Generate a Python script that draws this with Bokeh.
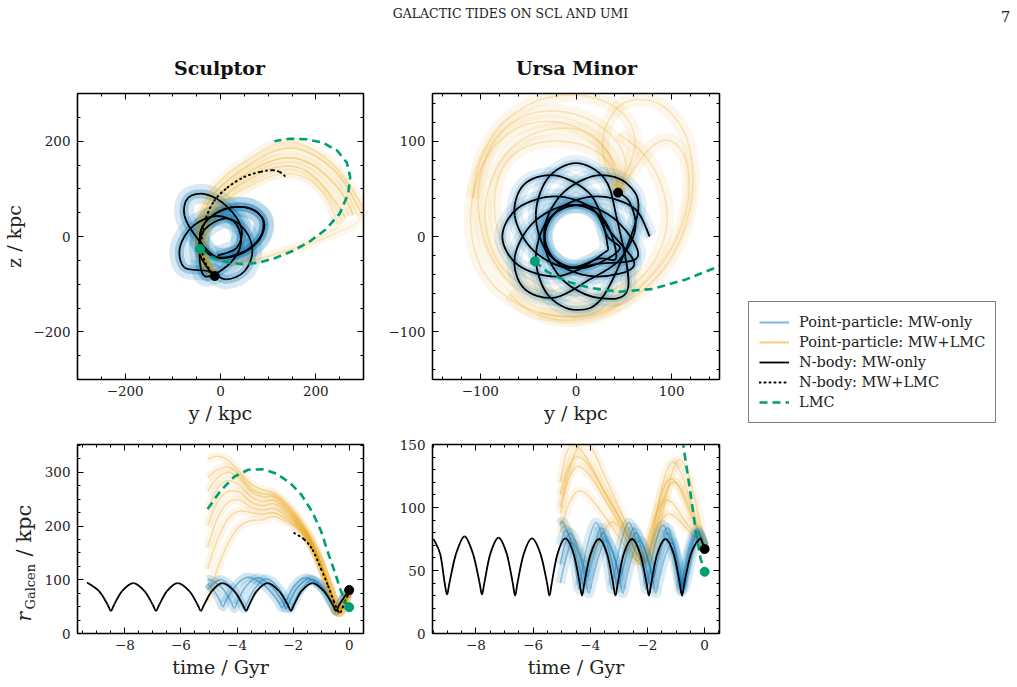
import math
from bokeh.plotting import figure
from bokeh.models import (ColumnDataSource, FixedTicker, LinearAxis, Range1d,
                          Label, Legend, LegendItem)
from bokeh.layouts import column, row
from bokeh.embed import file_html
from bokeh.resources import INLINE

# ------------------------------------------------------------------ data
# --- Sculptor, y-z projection (kpc); N-body MW-only orbit, loop by loop
SCL_LOOP_A = [(-6, -40), (33.9, -24), (44, 16.5), (14.8, 61.8), (-30.5, 88.5), (-68, 81), (-75.5, 43.5), (-50, -2)]
SCL_LOOP_B = [(-10, -42), (41.3, -35), (81.7, -3.6), (88.9, 35.1), (58.7, 60.2), (8.7, 57.1), (-33, 28), (-42, -12)]
SCL_LOOP_B2 = [(-12, -44), (40, -37.5), (82, -6), (91, 33), (61, 59), (10, 58.5), (-32, 30), (-44, -8)]
SCL_LOOP_C = [(-35.2, -81.7), (13.2, -62.4), (42, -20), (33, 26), (-8.8, 43), (-57.2, 22.4), (-85, -21.7), (-75.9, -64.8)]
SCL_LOOP_D = [(-26.9, -72.4), (12, -90), (50.9, -72.4), (67, -30), (50.9, 14), (12, 38), (-34, 14), (-45, -30)]
SCL_LOOP_END = [(-30, -62), (-12, -83)]
# Sculptor point-particle MW+LMC bundle (spines)
SCL_PP_LMC_1 = [(-12, -83), (-32, -55), (-45, -20), (-45, 15), (-35, 50), (-15, 88), (15, 118), (60, 150), (110, 178), (155, 185), (200, 168), (240, 138), (268, 100), (285, 68), (298, 45)]
SCL_PP_LMC_2 = [(-12, -83), (-30, -58), (-42, -25), (-40, 10), (-30, 45), (-10, 80), (20, 108), (60, 135), (105, 158), (150, 165), (190, 152), (225, 125), (252, 95), (270, 65), (278, 45)]
SCL_PP_LMC_3 = [(-12, -83), (-28, -60), (-38, -28), (-36, 5), (-25, 38), (-5, 70), (25, 98), (65, 122), (105, 142), (145, 148), (180, 138), (210, 112), (232, 85), (250, 60), (262, 40)]
SCL_PP_LMC_4 = [(298, 45), (280, 25), (245, 8), (195, -12), (135, -32), (75, -48), (25, -55)]
SCL_PP_LMC_5 = [(-12, -83), (-27, -62), (-35, -30), (-32, 0), (-20, 30), (0, 60), (30, 88), (70, 110), (110, 128), (150, 132), (185, 120), (212, 95), (228, 70), (240, 45), (245, 25)]
SCL_PP_LMC_6 = [(-12, -83), (-33, -55), (-47, -18), (-48, 18), (-40, 55), (-20, 95), (10, 128), (55, 160), (105, 190), (150, 198), (195, 182), (235, 152), (265, 115), (285, 85), (300, 60)]
SCL_PP_LMC_7 = [(262, 40), (245, 20), (215, 2), (170, -18), (120, -35), (70, -50), (20, -58)]
# Sculptor N-body MW+LMC
SCL_NB_LMC = [(-12, -83), (-30, -58), (-40, -25), (-38, 5), (-30, 40), (-13, 75), (15, 103), (50, 125), (85, 136), (110, 139), (125, 135), (135, 127)]
SCL_NOW = (-12, -83)

# --- Ursa Minor, y-z projection (kpc); N-body MW-only rosette, loop by loop
UMI_LOOP_1 = [(77, 0), (60.9, 29.7), (22, 42), (-16.9, 29.7), (-33, 0), (-16.9, -29.7), (22, -42), (60.9, -29.7)]
UMI_LOOP_2 = [(32.9, 9.1), (14.1, 45.2), (-22.1, 64.1), (-54.4, 54.4), (-64.1, 22.1), (-45.2, -14.1), (-9.1, -32.9), (23.3, -23.3)]
UMI_LOOP_3 = [(42, -22), (29.7, 16.9), (0, 33), (-29.7, 16.9), (-42, -22), (-29.7, -60.9), (0, -77), (29.7, -60.9)]
UMI_LOOP_4 = [(64.1, 22.1), (54.4, 54.4), (22.1, 64.1), (-14.1, 45.2), (-32.9, 9.1), (-23.3, -23.3), (9.1, -32.9), (45.2, -14.1)]
UMI_LOOP_5 = [(33, 0), (16.9, 29.7), (-22, 42), (-60.9, 29.7), (-77, 0), (-60.9, -29.7), (-22, -42), (16.9, -29.7)]
UMI_LOOP_6 = [(64.1, -22.1), (45.2, 14.1), (9.1, 32.9), (-23.3, 23.3), (-32.9, -9.1), (-14.1, -45.2), (22.1, -64.1), (54.4, -54.4)]
UMI_LOOP_7 = [(42, 22), (29.7, 60.9), (0, 77), (-29.7, 60.9), (-42, 22), (-29.7, -16.9), (0, -33), (29.7, -16.9)]
UMI_LOOP_8 = [(32.9, -9.1), (23.3, 23.3), (-9.1, 32.9), (-45.2, 14.1), (-64.1, -22.1), (-54.4, -54.4), (-22.1, -64.1), (14.1, -45.2)]
UMI_LOOP_END = [(45, -25), (62, 8), (56, 36), (44, 46)]
# Ursa Minor point-particle MW+LMC bundle (spines)
UMI_PP_LMC_1 = [(44, 46), (42, 72), (25, 98), (-10, 118), (-50, 118), (-85, 95), (-105, 55), (-110, 10), (-98, -35), (-70, -65), (-30, -82), (10, -82), (45, -70)]
UMI_PP_LMC_2 = [(44, 46), (30, 78), (30, 112), (50, 140), (85, 140), (112, 112), (122, 70), (118, 25), (102, -18), (75, -52), (38, -75), (0, -85), (-38, -80)]
UMI_PP_LMC_3 = [(44, 46), (52, 78), (35, 108), (0, 128), (-42, 130), (-78, 110), (-98, 72), (-102, 28), (-90, -18), (-62, -55), (-22, -72), (20, -70), (58, -52), (85, -20), (95, 15), (90, 52), (72, 85), (45, 108)]
UMI_PP_LMC_4 = [(44, 46), (35, 85), (10, 110), (-30, 112), (-65, 95), (-88, 60), (-95, 20), (-85, -20), (-60, -48), (-25, -62)]
UMI_PP_LMC_5 = [(44, 46), (55, 72), (62, 100), (50, 128), (20, 145), (-15, 148), (-50, 138), (-80, 115), (-100, 80), (-108, 40)]
UMI_PP_LMC_6 = [(44, 46), (40, 68), (20, 90), (-15, 100), (-50, 95), (-75, 75), (-85, 40), (-80, 0), (-60, -35), (-30, -55), (5, -62), (40, -55), (65, -35)]
UMI_PP_LMC_7 = [(44, 46), (60, 70), (80, 95), (100, 100), (115, 80), (118, 45), (110, 10), (92, -25), (65, -55), (30, -80), (-10, -88), (-45, -80), (-70, -60)]
UMI_NOW = (44, 46)

# --- LMC orbit, y-z projection (kpc)
LMC_Y = [-43, -30, -10, 15, 45, 80, 115, 150, 185, 220, 250, 268, 272, 265, 245, 215, 180, 145, 113]
LMC_Z = [-26, -37, -47, -54, -58, -55, -45, -31, -12, 14, 48, 90, 125, 155, 180, 197, 204, 205, 200]
LMC_NOW = (-43, -26)

# --- Galactocentric distance vs time (Gyr, kpc)
SCL_NB_T = [-9.35, -8.92, -8.62, -8.50, -8.38, -8.10, -7.70, -7.30, -7.01, -6.89, -6.77, -6.50, -6.12, -5.70, -5.41, -5.29, -5.17, -4.90, -4.52, -4.10, -3.80, -3.68, -3.56, -3.30, -2.91, -2.50, -2.20, -2.08, -1.96, -1.70, -1.31, -0.90, -0.59, -0.47, -0.35, -0.12, 0.0]
SCL_NB_R = [95, 79, 54, 42, 54, 79, 94, 79, 54, 42, 54, 79, 94, 79, 54, 42, 54, 79, 94, 79, 54, 42, 54, 79, 94, 79, 54, 42, 54, 79, 94, 79, 54, 42, 54, 72, 81]
SCL_NBL_T = [-1.96, -1.6, -1.3, -1.0, -0.75, -0.55, -0.4, -0.3, -0.15, 0.0]
SCL_NBL_R = [187, 175, 155, 120, 88, 60, 42, 40, 60, 76]
SCL_PP_T1 = [-5.05, -4.8, -4.55, -4.15, -3.87, -3.75, -3.63, -3.35, -2.95, -2.52, -2.22, -2.10, -1.98, -1.70, -1.30, -0.88, -0.59, -0.47, -0.33, -0.12, 0.0]
SCL_PP_R1 = [82, 95, 100, 84, 58, 46, 58, 85, 102, 85, 57, 45, 57, 83, 100, 83, 55, 42, 55, 72, 80]
SCL_PP_T2 = [-5.05, -4.95, -4.52, -4.22, -4.10, -3.98, -3.68, -3.25, -2.75, -2.37, -2.25, -2.13, -1.84, -1.42, -0.95, -0.60, -0.47, -0.33, -0.12, 0.0]
SCL_PP_R2 = [99, 100, 84, 60, 47, 60, 88, 104, 87, 59, 46, 59, 86, 102, 85, 55, 42, 55, 72, 80]
SCL_PP_T3 = [-5.05, -4.80, -4.62, -4.50, -4.38, -4.05, -3.60, -3.00, -2.55, -2.40, -2.25, -1.97, -1.55, -1.00, -0.62, -0.47, -0.33, -0.12, 0.0]
SCL_PP_R3 = [92, 78, 62, 50, 63, 89, 105, 88, 61, 48, 61, 88, 104, 85, 55, 42, 55, 72, 80]
SCL_PPL_T = [-5.05, -4.7, -4.3, -3.9, -3.5, -3.1, -2.7, -2.3, -1.9, -1.5, -1.15, -0.85, -0.6, -0.42, -0.3, -0.15, 0.0]
SCL_PPL_R1 = [325, 330, 322, 300, 278, 268, 262, 245, 222, 190, 150, 108, 70, 42, 42, 58, 80]
SCL_PPL_R2 = [265, 290, 300, 288, 265, 255, 255, 238, 215, 185, 148, 106, 70, 42, 42, 58, 80]
SCL_PPL_R3 = [200, 245, 265, 262, 245, 238, 242, 228, 208, 180, 145, 105, 70, 42, 42, 58, 80]
SCL_PPL_R4 = [120, 175, 215, 228, 225, 222, 225, 215, 200, 176, 143, 104, 70, 42, 42, 58, 80]
SCL_PPL_R5 = [60, 120, 170, 200, 210, 212, 218, 210, 198, 175, 142, 104, 70, 42, 42, 58, 80]
SCL_PPL_R6 = [290, 305, 310, 295, 270, 260, 258, 242, 218, 187, 149, 107, 70, 42, 42, 58, 80]
SCL_PPL_R7 = [230, 270, 285, 275, 255, 246, 248, 233, 212, 183, 147, 106, 70, 42, 42, 58, 80]
SCL_PPL_R8 = [160, 215, 245, 248, 235, 230, 233, 222, 205, 178, 144, 105, 70, 42, 42, 58, 80]

UMI_NB_T = [-9.48, -9.25, -9.10, -9.01, -8.92, -8.70, -8.40, -8.10, -7.88, -7.79, -7.70, -7.50, -7.21, -6.92, -6.72, -6.63, -6.54, -6.33, -6.04, -5.74, -5.52, -5.43, -5.34, -5.15, -4.87, -4.58, -4.38, -4.29, -4.20, -3.99, -3.70, -3.41, -3.21, -3.12, -3.03, -2.83, -2.54, -2.25, -2.04, -1.95, -1.86, -1.66, -1.37, -1.08, -0.88, -0.79, -0.70, -0.48, -0.18, -0.08, 0.0]
UMI_NB_R = [75, 63, 41, 31, 41, 63, 77, 63, 41, 31, 41, 63, 76, 63, 41, 30, 41, 63, 75.5, 63, 41, 30, 41, 63, 75.5, 63, 41, 30, 41, 63, 75, 63, 41, 30, 41, 63, 75, 63, 41, 30, 41, 63, 75, 63, 41, 30, 41, 63, 75, 72, 67]
UMI_PP_T1 = [-5.05, -4.95, -4.65, -4.48, -4.40, -4.32, -4.10, -3.80, -3.50, -3.33, -3.25, -3.17, -2.95, -2.65, -2.35, -2.14, -2.05, -1.96, -1.75, -1.45, -1.15, -0.94, -0.85, -0.76, -0.55, -0.28, -0.12, 0.0]
UMI_PP_R1 = [86, 88, 70, 46, 35, 46, 70, 88, 70, 46, 35, 46, 70, 88, 70, 46, 35, 46, 70, 86, 68, 45, 35, 45, 68, 82, 76, 67]
UMI_PP_T2 = [-5.05, -4.90, -4.70, -4.42, -4.20, -4.10, -4.00, -3.80, -3.55, -3.27, -3.05, -2.95, -2.85, -2.65, -2.40, -2.12, -1.90, -1.80, -1.70, -1.50, -1.30, -1.05, -0.88, -0.80, -0.72, -0.52, -0.25, -0.10, 0.0]
UMI_PP_R2 = [55, 70, 80, 68, 52, 45, 52, 68, 80, 68, 52, 45, 52, 68, 80, 68, 52, 44, 52, 68, 80, 66, 45, 36, 45, 66, 80, 75, 67]
UMI_PP_T3 = [-5.05, -4.90, -4.65, -4.35, -4.15, -4.05, -3.95, -3.72, -3.45, -3.15, -2.95, -2.86, -2.77, -2.55, -2.28, -2.00, -1.80, -1.71, -1.62, -1.40, -1.12, -0.90, -0.78, -0.70, -0.60, -0.40, -0.20, 0.0]
UMI_PP_R3 = [40, 55, 72, 60, 40, 32, 40, 60, 74, 60, 40, 32, 40, 60, 74, 60, 40, 32, 40, 60, 72, 55, 38, 36, 45, 66, 78, 67]
UMI_PP_T4 = [-5.05, -4.85, -4.55, -4.30, -4.22, -4.12, -3.90, -3.62, -3.35, -3.12, -3.04, -2.94, -2.72, -2.48, -2.20, -1.97, -1.88, -1.78, -1.57, -1.30, -1.02, -0.86, -0.80, -0.72, -0.50, -0.25, 0.0]
UMI_PP_R4 = [70, 82, 66, 44, 36, 44, 66, 84, 66, 44, 36, 44, 66, 84, 66, 44, 36, 44, 66, 84, 64, 42, 33, 42, 64, 80, 67]
UMI_PPL_T1 = [-5.05, -4.85, -4.6, -4.3, -3.9, -3.5, -3.1, -2.7, -2.4, -2.15, -1.95, -1.75, -1.55, -1.35, -1.15, -0.95, -0.7, -0.45, -0.2, 0.0]
UMI_PPL_R1 = [120, 142, 150, 145, 130, 113, 97, 80, 66, 57, 62, 85, 110, 128, 136, 133, 120, 100, 82, 70]
UMI_PPL_T2 = [-5.05, -4.8, -4.5, -4.2, -3.8, -3.4, -3.0, -2.6, -2.35, -2.15, -1.95, -1.7, -1.45, -1.2, -0.95, -0.7, -0.45, -0.2, 0.0]
UMI_PPL_R2 = [95, 120, 132, 130, 118, 103, 88, 73, 62, 58, 70, 95, 115, 123, 118, 106, 92, 80, 70]
UMI_PPL_T3 = [-5.05, -4.8, -4.5, -4.2, -3.9, -3.5, -3.1, -2.75, -2.5, -2.3, -2.1, -1.85, -1.6, -1.35, -1.1, -0.85, -0.55, -0.25, 0.0]
UMI_PPL_R3 = [80, 100, 112, 112, 105, 93, 80, 68, 60, 58, 66, 85, 100, 106, 103, 95, 85, 77, 70]
UMI_PPL_T4 = [-5.05, -4.8, -4.55, -4.35, -4.1, -3.9, -3.6, -3.3, -3.0, -2.7, -2.45, -2.25, -2.0, -1.75, -1.5, -1.25, -1.0, -0.7, -0.4, 0.0]
UMI_PPL_R4 = [90, 85, 72, 60, 58, 65, 78, 88, 85, 72, 60, 55, 62, 78, 90, 95, 92, 85, 78, 70]
UMI_PPL_T5 = [-5.05, -4.8, -4.5, -4.1, -3.7, -3.3, -2.9, -2.6, -2.35, -2.1, -1.85, -1.6, -1.35, -1.1, -0.85, -0.6, -0.3, 0.0]
UMI_PPL_R5 = [110, 130, 140, 135, 120, 104, 88, 74, 62, 56, 68, 92, 112, 120, 116, 104, 86, 70]
UMI_PPL_T6 = [-5.05, -4.8, -4.5, -4.25, -3.9, -3.5, -3.1, -2.7, -2.4, -2.1, -1.85, -1.6, -1.35, -1.1, -0.85, -0.55, -0.25, 0.0]
UMI_PPL_R6 = [100, 125, 145, 152, 145, 125, 105, 85, 70, 58, 60, 82, 108, 130, 138, 125, 98, 70]

LMC_T = [-5.05, -4.6, -4.1, -3.6, -3.1, -2.6, -2.1, -1.7, -1.3, -1.0, -0.75, -0.5, -0.3, -0.15, 0.0]
LMC_R = [232, 265, 292, 305, 306, 298, 280, 258, 225, 190, 150, 112, 80, 60, 49]
SCL_R_NOW, UMI_R_NOW, LMC_R_NOW = 81, 67, 49

# axis ticks
SCL_XY_MAJOR = [-200, 0, 200]
SCL_XY_MINOR = [-300, -250, -200, -150, -100, -50, 0, 50, 100, 150, 200, 250, 300]
UMI_XY_MAJOR = [-100, 0, 100]
UMI_XY_MINOR = [-140, -120, -100, -80, -60, -40, -20, 0, 20, 40, 60, 80, 100, 120, 140]
T_MAJOR = [-8, -6, -4, -2, 0]
T_MINOR = [-9.5, -9, -8.5, -8, -7.5, -7, -6.5, -6, -5.5, -5, -4.5, -4, -3.5, -3, -2.5, -2, -1.5, -1, -0.5, 0, 0.5]
SCL_R_MAJOR = [0, 100, 200, 300]
SCL_R_MINOR = [0, 25, 50, 75, 100, 125, 150, 175, 200, 225, 250, 275, 300, 325, 350]
UMI_R_MAJOR = [0, 50, 100, 150]
UMI_R_MINOR = [0, 10, 20, 30, 40, 50, 60, 70, 80, 90, 100, 110, 120, 130, 140, 150]

# ------------------------------------------------------------------ style
BLUE, ORANGE, GREEN, BLACK = "#0072B2", "#E69F00", "#009E73", "#000000"
FONT = "DejaVu Serif"
TXT = "#222222"


def smooth(p, xs, ys, **kw):
    """Draw a smooth curve through the given points (Catmull-Rom as Bezier glyphs)."""
    n = len(xs)
    d = {k: [] for k in ("x0", "y0", "x1", "y1", "cx0", "cy0", "cx1", "cy1")}
    for i in range(n - 1):
        a, b = max(i - 1, 0), min(i + 2, n - 1)
        d["x0"].append(xs[i]); d["y0"].append(ys[i])
        d["x1"].append(xs[i + 1]); d["y1"].append(ys[i + 1])
        d["cx0"].append(xs[i] + (xs[i + 1] - xs[a]) / 6.0)
        d["cy0"].append(ys[i] + (ys[i + 1] - ys[a]) / 6.0)
        d["cx1"].append(xs[i + 1] - (xs[b] - xs[i]) / 6.0)
        d["cy1"].append(ys[i + 1] - (ys[b] - ys[i]) / 6.0)
    return p.bezier(x0="x0", y0="y0", x1="x1", y1="y1", cx0="cx0", cy0="cy0",
                    cx1="cx1", cy1="cy1", source=ColumnDataSource(d), **kw)


def pts(seq):
    return [q[0] for q in seq], [q[1] for q in seq]


def minus(v):
    return ("%g" % v).replace("-", "\u2212")


def bare_fig(w, h, xr, yr, **kw):
    p = figure(width=w, height=h, x_range=Range1d(*xr), y_range=Range1d(*yr),
               output_backend="svg", toolbar_location=None, **kw)
    p.axis.visible = False
    p.xgrid.visible = False
    p.ygrid.visible = False
    p.outline_line_color = None
    return p


def make_fig(w, h, xr, yr, bl, br, bt, bb):
    p = figure(width=w, height=h, x_range=Range1d(*xr), y_range=Range1d(*yr),
               output_backend="svg", toolbar_location=None,
               min_border_left=bl, min_border_right=br, min_border_top=bt, min_border_bottom=bb)
    p.xgrid.visible = False
    p.ygrid.visible = False
    p.outline_line_color = "black"
    p.outline_line_width = 1.4
    p.background_fill_color = "white"
    p.border_fill_color = "white"
    return p


def style_axes(p, xmaj, xmin, ymaj, ymin, xlabel=None, ylabel=None):
    xt = FixedTicker(ticks=xmaj, minor_ticks=xmin)
    yt = FixedTicker(ticks=ymaj, minor_ticks=ymin)
    bottom, left = p.below[0], p.left[0]
    bottom.ticker = xt
    left.ticker = yt
    bottom.major_label_overrides = {v: minus(v) for v in xmaj}
    left.major_label_overrides = {v: minus(v) for v in ymaj}
    top = LinearAxis(ticker=xt)
    right = LinearAxis(ticker=yt)
    p.add_layout(top, "above")
    p.add_layout(right, "right")
    for ax in (bottom, left, top, right):
        ax.major_tick_in = 6
        ax.major_tick_out = 0
        ax.minor_tick_in = 3
        ax.minor_tick_out = 0
        ax.major_tick_line_color = "black"
        ax.minor_tick_line_color = "black"
        ax.major_tick_line_width = 1
        ax.minor_tick_line_width = 1
        ax.axis_line_color = "black"
        ax.axis_line_width = 1.2
        ax.major_label_text_font = FONT
        ax.major_label_text_font_size = "13.5px"
        ax.major_label_text_color = TXT
        ax.axis_label_text_font = FONT
        ax.axis_label_text_font_size = "19px"
        ax.axis_label_text_font_style = "normal"
        ax.axis_label_text_color = TXT
    for ax in (top, right):
        ax.major_label_text_font_size = "1px"
        ax.major_label_text_color = None
        ax.major_label_standoff = 0
    bottom.major_label_standoff = 6
    left.major_label_standoff = 7
    if xlabel:
        bottom.axis_label = xlabel
        bottom.axis_label_standoff = 3
    if ylabel:
        left.axis_label = ylabel
        left.axis_label_standoff = 5


def bundle(p, xs, ys, color, wide_w, wide_alpha, thin_alpha):
    smooth(p, xs, ys, line_color=color, line_width=wide_w, line_alpha=wide_alpha, line_cap="butt")
    smooth(p, xs, ys, line_color=color, line_width=1.6, line_alpha=thin_alpha, line_cap="butt")


# ------------------------------------------------------------------ header (page head + panel titles)
header = bare_fig(1017, 80, (0, 1017), (0, 80), min_border=0)
header.add_layout(Label(x=510, y=60, text="GALACTIC TIDES ON SCL AND UMI", text_font=FONT,
                        text_font_size="12.5px", text_align="center", text_color=TXT))
header.add_layout(Label(x=1005, y=59, text="7", text_font=FONT, text_font_size="15px",
                        text_align="center", text_color=TXT))
header.add_layout(Label(x=219, y=2, text="Sculptor", text_font=FONT, text_font_size="19px",
                        text_font_style="bold", text_align="center", text_color="#111111"))
header.add_layout(Label(x=576, y=2, text="Ursa Minor", text_font=FONT, text_font_size="19px",
                        text_font_style="bold", text_align="center", text_color="#111111"))

# ------------------------------------------------------------------ Sculptor y-z
tl = make_fig(380, 350, (-300, 300), (-300, 300), 77, 17, 13, 51)
style_axes(tl, SCL_XY_MAJOR, SCL_XY_MINOR, SCL_XY_MAJOR, SCL_XY_MINOR, "y / kpc", "z / kpc")
scl_loops = [SCL_LOOP_A, SCL_LOOP_B, SCL_LOOP_B2, SCL_LOOP_C, SCL_LOOP_D]
scl_path = [q for loop in scl_loops for q in loop] + SCL_LOOP_END
sx, sy = pts(scl_path)
smooth(tl, sx, sy, line_color=BLUE, line_width=20, line_alpha=0.15, line_cap="butt")
smooth(tl, sx, sy, line_color=BLUE, line_width=9, line_alpha=0.28, line_cap="butt")
for spine, a1, a2 in ((SCL_PP_LMC_1, 0.12, 0.3), (SCL_PP_LMC_2, 0.16, 0.35),
                      (SCL_PP_LMC_3, 0.14, 0.3), (SCL_PP_LMC_4, 0.06, 0.12),
                      (SCL_PP_LMC_5, 0.10, 0.2), (SCL_PP_LMC_6, 0.08, 0.2),
                      (SCL_PP_LMC_7, 0.05, 0.1)):
    ox, oy = pts(spine)
    bundle(tl, ox, oy, ORANGE, 10, a1, a2)
smooth(tl, sx, sy, line_color=BLACK, line_width=1.8)
dx, dy = pts(SCL_NB_LMC)
smooth(tl, dx, dy, line_color=BLACK, line_width=2, line_dash="1 4", line_cap="round")
tl.line(LMC_Y, LMC_Z, line_color=GREEN, line_width=2.6, line_dash="8 5")
tl.scatter([SCL_NOW[0]], [SCL_NOW[1]], size=9, color=BLACK)
tl.scatter([LMC_NOW[0]], [LMC_NOW[1]], size=9, color=GREEN)

# ------------------------------------------------------------------ Ursa Minor y-z
tr = make_fig(360, 350, (-150, 150), (-150, 150), 52, 21, 13, 51)
style_axes(tr, UMI_XY_MAJOR, UMI_XY_MINOR, UMI_XY_MAJOR, UMI_XY_MINOR, "y / kpc", None)
umi_loops = [UMI_LOOP_1, UMI_LOOP_2, UMI_LOOP_3, UMI_LOOP_4, UMI_LOOP_5, UMI_LOOP_6, UMI_LOOP_7, UMI_LOOP_8]
umi_path = [q for loop in umi_loops for q in loop] + UMI_LOOP_END
ux, uy = pts(umi_path)
for spine in (UMI_PP_LMC_1, UMI_PP_LMC_2, UMI_PP_LMC_3, UMI_PP_LMC_4, UMI_PP_LMC_5,
              UMI_PP_LMC_6, UMI_PP_LMC_7):
    ox, oy = pts(spine)
    bundle(tr, ox, oy, ORANGE, 14, 0.08, 0.22)
smooth(tr, ux, uy, line_color=BLUE, line_width=16, line_alpha=0.11, line_cap="butt")
smooth(tr, ux, uy, line_color=BLUE, line_width=7, line_alpha=0.17, line_cap="butt")
smooth(tr, ux, uy, line_color=BLACK, line_width=1.8)
tr.line(LMC_Y, LMC_Z, line_color=GREEN, line_width=2.6, line_dash="8 5")
tr.scatter([UMI_NOW[0]], [UMI_NOW[1]], size=9, color=BLACK)
tr.scatter([LMC_NOW[0]], [LMC_NOW[1]], size=9, color=GREEN)

# ------------------------------------------------------------------ legend panel
lg = bare_fig(277, 350, (0, 1), (0, 1), min_border=0)
r1 = lg.line([5, 6], [5, 6], line_color=BLUE, line_width=2, line_alpha=0.5)
r2 = lg.line([5, 6], [5, 6], line_color=ORANGE, line_width=2, line_alpha=0.5)
r3 = lg.line([5, 6], [5, 6], line_color=BLACK, line_width=1.8)
r4 = lg.line([5, 6], [5, 6], line_color=BLACK, line_width=2, line_dash="1 4", line_cap="round")
r5 = lg.line([5, 6], [5, 6], line_color=GREEN, line_width=2.6, line_dash="8 5")
legend = Legend(items=[LegendItem(label="Point-particle: MW-only", renderers=[r1]),
                       LegendItem(label="Point-particle: MW+LMC", renderers=[r2]),
                       LegendItem(label="N-body: MW-only", renderers=[r3]),
                       LegendItem(label="N-body: MW+LMC", renderers=[r4]),
                       LegendItem(label="LMC", renderers=[r5])],
                location=(8, 7), orientation="vertical")
legend.label_text_font = FONT
legend.label_text_font_size = "14.5px"
legend.label_text_color = TXT
legend.glyph_width = 30
legend.glyph_height = 18
legend.label_height = 20
legend.label_standoff = 10
legend.spacing = 0
legend.padding = 10
legend.margin = 0
legend.border_line_color = "black"
legend.border_line_width = 1.4
legend.background_fill_alpha = 1
lg.add_layout(legend, "center")

# ------------------------------------------------------------------ y label column for r_Galcen / kpc
rlab = bare_fig(40, 257, (0, 40), (0, 189), min_border_left=0, min_border_right=0,
                min_border_top=14, min_border_bottom=54)
for txt, x, y, size, fstyle in (("r", 23, 12, "20px", "italic"),
                                ("Galcen", 29.5, 24, "13px", "normal"),
                                ("/ kpc", 23, 77, "21px", "normal")):
    rlab.add_layout(Label(x=x, y=y, text=txt, angle=math.pi / 2,
                          text_font=FONT, text_font_size=size, text_font_style=fstyle,
                          text_align="left", text_baseline="middle", text_color=TXT))

# ------------------------------------------------------------------ Sculptor r(t)
bl = make_fig(340, 257, (-9.69, 0.51), (0, 352), 37, 17, 14, 54)
style_axes(bl, T_MAJOR, T_MINOR, SCL_R_MAJOR, SCL_R_MINOR, "time / Gyr", None)
for t, r in ((SCL_PP_T1, SCL_PP_R1), (SCL_PP_T2, SCL_PP_R2), (SCL_PP_T3, SCL_PP_R3)):
    bundle(bl, t, r, BLUE, 9, 0.18, 0.42)
for r in (SCL_PPL_R1, SCL_PPL_R2, SCL_PPL_R3, SCL_PPL_R4, SCL_PPL_R5,
          SCL_PPL_R6, SCL_PPL_R7, SCL_PPL_R8):
    bundle(bl, SCL_PPL_T, r, ORANGE, 9, 0.09, 0.28)
smooth(bl, SCL_NB_T, SCL_NB_R, line_color=BLACK, line_width=1.8)
smooth(bl, SCL_NBL_T, SCL_NBL_R, line_color=BLACK, line_width=2, line_dash="1 4", line_cap="round")
bl.line(LMC_T, LMC_R, line_color=GREEN, line_width=2.6, line_dash="8 5")
bl.scatter([0], [SCL_R_NOW], size=9, color=BLACK)
bl.scatter([0], [LMC_R_NOW], size=9, color=GREEN)

# ------------------------------------------------------------------ Ursa Minor r(t)
br = make_fig(360, 257, (-9.52, 0.52), (0, 150), 52, 21, 14, 54)
style_axes(br, T_MAJOR, T_MINOR, UMI_R_MAJOR, UMI_R_MINOR, "time / Gyr", None)
for t, r in ((UMI_PPL_T1, UMI_PPL_R1), (UMI_PPL_T2, UMI_PPL_R2), (UMI_PPL_T3, UMI_PPL_R3),
             (UMI_PPL_T4, UMI_PPL_R4), (UMI_PPL_T5, UMI_PPL_R5), (UMI_PPL_T6, UMI_PPL_R6)):
    bundle(br, t, r, ORANGE, 9, 0.09, 0.28)
for t, r in ((UMI_PP_T1, UMI_PP_R1), (UMI_PP_T2, UMI_PP_R2), (UMI_PP_T3, UMI_PP_R3),
             (UMI_PP_T4, UMI_PP_R4)):
    bundle(br, t, r, BLUE, 10, 0.14, 0.36)
smooth(br, UMI_NB_T, UMI_NB_R, line_color=BLACK, line_width=1.8)
br.line(LMC_T, LMC_R, line_color=GREEN, line_width=2.6, line_dash="8 5")
br.scatter([0], [UMI_R_NOW], size=9, color=BLACK)
br.scatter([0], [LMC_R_NOW], size=9, color=GREEN)

layout = column(header, row(row(tl, tr), lg), row(rlab, bl, br))
open("out.html", "w").write(file_html(layout, INLINE, title="Galactic tides on Scl and UMi"))
